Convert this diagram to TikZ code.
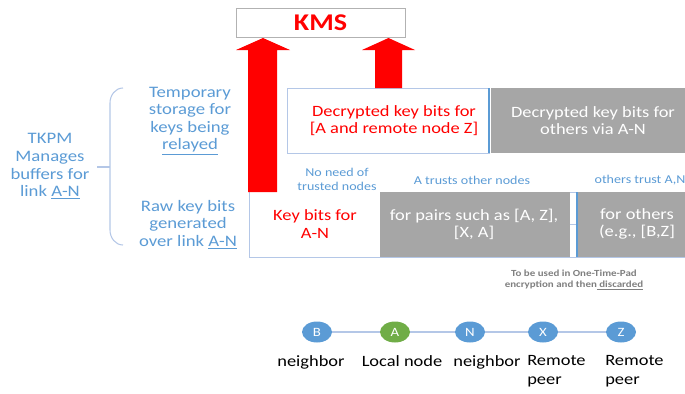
\documentclass[tikz,border=0pt]{standalone}
\usepackage{fontspec}
\setmainfont{Carlito}[FakeStretch=1.17]
\usetikzlibrary{shapes.geometric}
\definecolor{tblue}{HTML}{5B9BD5}
\definecolor{tgray}{HTML}{A6A6A6}
\definecolor{tgreen}{HTML}{70AD47}
\definecolor{tline}{HTML}{B4C7E7}
\definecolor{kred}{HTML}{FF0000}
\definecolor{capgray}{HTML}{7F7F7F}
\begin{document}
\begin{tikzpicture}[x=0.75pt,y=-0.75pt,
  bluetxt/.style={text=tblue, align=center, inner sep=0, font=\fontsize{12}{13.2}\selectfont},
  smallblue/.style={text=tblue, align=center, inner sep=0, font=\fontsize{9}{10.5}\selectfont},
  boxtxt/.style={align=center, inner sep=0, font=\fontsize{11.8}{12.8}\selectfont},
  whitebox/.style={rectangle, fill=white, draw=tline, line width=0.6pt, inner sep=0},
  graybox/.style={rectangle, fill=tgray, draw=none, inner sep=0},
  peer/.style={ellipse, minimum width=22.5pt, minimum height=15.75pt, inner sep=0, text=white, font=\fontsize{9.5}{11}\selectfont},
  peerlabel/.style={align=left, inner sep=0, font=\fontsize{11.8}{14.25}\selectfont},
  redarrow/.style={fill=kred, draw=none}]
\useasboundingbox (0,0) rectangle (685,393);

% KMS
\node[rectangle, draw=black!30, fill=white, line width=0.6pt, minimum width=126.75pt, minimum height=21.75pt, inner sep=0] (kms) at (320.5,22.5) {};
\node[text=kred, inner sep=0, font=\fontsize{18}{20}\selectfont\bfseries] (kmstxt) at (320.5,22.5) {KMS};

% upper row
\node[whitebox, minimum width=151.5pt, minimum height=48.75pt] (dec) at (388,120.5) {};
\node[graybox, minimum width=150pt, minimum height=48.75pt] (decgray) at (591,120.5) {};
\draw[tblue, line width=0.8pt] (489,88) -- (489,153);
\node[boxtxt, text=kred] (dectxt) at (394,120.5) {Decrypted key bits for\\{}[A and remote node Z]};
\node[boxtxt, text=white] (decgtxt) at (593,120.5) {Decrypted key bits for\\others via A-N};

% lower row
\draw[tline, line width=0.6pt] (249,192) rectangle (690,257);
\node[whitebox, draw=none, minimum width=98.25pt, minimum height=48.75pt] (kb) at (314.5,224.5) {};
\node[graybox, minimum width=142.5pt, minimum height=48.75pt] (pairs) at (475,224.5) {};
\node[graybox, minimum width=84pt, minimum height=48.75pt] (others) at (634,224.5) {};
\draw[tline, line width=0.6pt] (570,224) -- (577,224);
\draw[tblue, line width=0.8pt] (577,192) -- (577,257);
\draw[tline, line width=0.6pt] (249,192) -- (249,257) -- (380,257);
\node[boxtxt, text=kred] (kbtxt) at (315,224) {Key bits for\\A-N};
\node[boxtxt, text=white] (pairstxt) at (474,224) {for pairs such as [A, Z],\\{}[X, A]};
\node[boxtxt, text=white] (otherstxt) at (637,224) {for others\\(e.g., [B,Z]};

% labels above lower row
\node[smallblue] (noneed) at (337,179) {No need of\\trusted nodes};
\node[smallblue] (atrusts) at (472,180) {A trusts other nodes};
\node[smallblue] (otrust) at (640,180) {others trust A,N};

% caption
\node[align=center, inner sep=0, text=capgray, font=\fontsize{7}{8}\selectfont\bfseries] (cap) at (574,280) {To be used in One-Time-Pad\\encryption and then\underline{ discarded}};

% red arrows
\fill[redarrow] (248,192) -- (248,50) -- (236,50) -- (263,38) -- (290,50) -- (277,50) -- (277,192) -- cycle;
\fill[redarrow] (375,88) -- (375,50) -- (362,50) -- (388.5,38) -- (415,50) -- (402,50) -- (402,88) -- cycle;

% left texts
\node[bluetxt] (tkpm) at (50,166.5) {TKPM\\Manages\\buffers for\\link \underline{A-N}};
\node[bluetxt] (temp) at (190,121) {Temporary\\storage for\\keys being\\\underline{relayed}};
\node[bluetxt] (raw) at (188,224.5) {Raw key bits\\generated\\over link \underline{A-N}};
\draw[tline, line width=0.8pt] (123,88) to[out=180,in=90] (110,103) -- (110,230) to[out=-90,in=180] (123,245);
\coordinate (bracetip) at (97,167);
\draw[tline, line width=0.8pt] (bracetip) -- (110,167);

% peers
\node[peer, fill=tblue] (B) at (317,332) {B};
\node[peer, fill=tgreen] (A) at (395,332) {A};
\node[peer, fill=tblue] (N) at (470,332) {N};
\node[peer, fill=tblue] (X) at (543,332) {X};
\node[peer, fill=tblue] (Z) at (621,332) {Z};
\draw[tline, line width=0.8pt] (B) -- (A) -- (N) -- (X) -- (Z);
\node[peerlabel, anchor=north] (lB) at (311,355) {neighbor};
\node[peerlabel, anchor=north] (lA) at (402,355) {Local node};
\node[peerlabel, anchor=north] (lN) at (487,355) {neighbor};
\node[peerlabel, anchor=north west] (lX) at (527,355) {Remote\\peer};
\node[peerlabel, anchor=north west] (lZ) at (605,355) {Remote\\peer};
\end{tikzpicture}
\end{document}
